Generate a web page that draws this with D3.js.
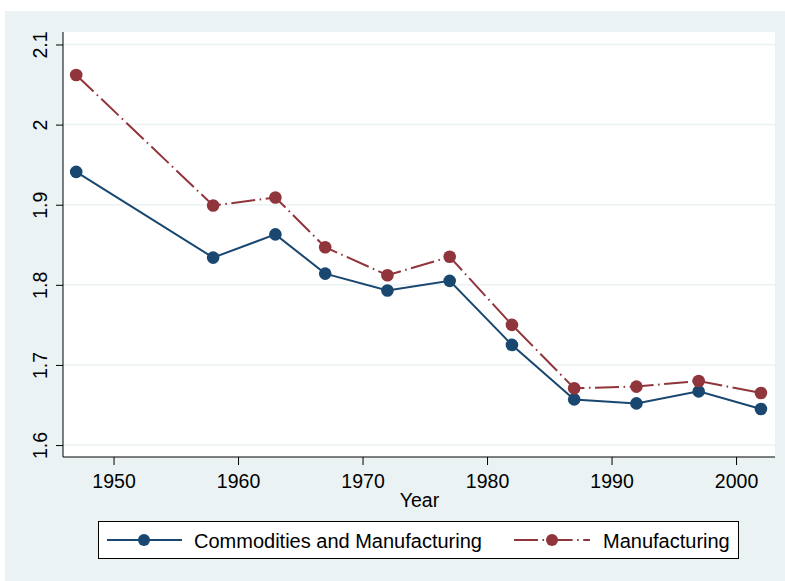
<!DOCTYPE html>
<html><head><meta charset="utf-8">
<script src="https://cdn.jsdelivr.net/npm/d3@7"></script>
<style>body{margin:0;background:#fff}svg{display:block}text{font-family:"Liberation Sans",Arial,sans-serif;fill:#000}</style>
</head><body>
<script>
const years = [1947,1958,1963,1967,1972,1977,1982,1987,1992,1997,2002];
const commodities = [1.941,1.834,1.863,1.814,1.793,1.805,1.725,1.657,1.652,1.667,1.645];
const manufacturing = [2.062,1.899,1.909,1.847,1.812,1.835,1.750,1.671,1.673,1.680,1.665];
const xTicks = [1950,1960,1970,1980,1990,2000];
const yTicks = [1.6,1.7,1.8,1.9,2.0,2.1];
const yTickLabels = ["1.6","1.7","1.8","1.9","2","2.1"];
const seriesNames = ["Commodities and Manufacturing","Manufacturing"];
const colors = ["#1a476f","#90353b"];

const W=785,H=581;
const svg=d3.select("body").append("svg").attr("width",W).attr("height",H);
svg.append("rect").attr("x",5).attr("y",11).attr("width",W-5).attr("height",H-11).attr("fill","#eaf2f3");
const L=63,R=775,T=32,B=457;
svg.append("rect").attr("x",L).attr("y",T).attr("width",R-L).attr("height",B-T).attr("fill","#fff");

const x=d3.scaleLinear().domain([1945.94,2003.13]).range([L,R]);
const y=d3.scaleLinear().domain([1.5851,2.1156]).range([B,T]);

// gridlines
svg.append("g").selectAll("line").data(yTicks).join("line")
 .attr("x1",L).attr("x2",R).attr("y1",d=>y(d)).attr("y2",d=>y(d))
 .attr("stroke","#eaf2f3").attr("stroke-width",1.5);

// y axis
const ya=svg.append("g").attr("transform",`translate(${L},0)`)
 .call(d3.axisLeft(y).tickValues(yTicks).tickSize(7).tickFormat((d,i)=>yTickLabels[i]));
ya.select(".domain").attr("d",`M0,${T}V${B}`).attr("stroke","#000");
ya.selectAll(".tick line").attr("stroke","#000");
ya.selectAll(".tick text").attr("x",0).attr("y",0).attr("dy",0)
 .attr("transform","translate(-16,0) rotate(-90)").attr("text-anchor","middle")
 .style("font-size","19.5px").style("font-family","Liberation Sans, Arial, sans-serif").attr("fill","#000");

// x axis
const xa=svg.append("g").attr("transform",`translate(0,${B})`)
 .call(d3.axisBottom(x).tickValues(xTicks).tickSize(8).tickFormat(d3.format("d")));
xa.select(".domain").attr("d",`M${L},0H${R}`).attr("stroke","#000");
xa.selectAll(".tick line").attr("stroke","#000");
xa.selectAll(".tick text").attr("y",31).attr("dy",0)
 .style("font-size","19.5px").style("font-family","Liberation Sans, Arial, sans-serif").attr("fill","#000");

svg.append("text").attr("x",419.5).attr("y",507).attr("text-anchor","middle")
 .style("font-size","19.5px").text("Year");

const line=d3.line().x((d,i)=>x(years[i])).y(d=>y(d));
const dashes=[null,"24,4.5,1.6,4.5"];
[commodities,manufacturing].forEach((s,k)=>{
  svg.append("path").datum(s).attr("d",line).attr("fill","none")
   .attr("stroke",colors[k]).attr("stroke-width",2).attr("stroke-dasharray",dashes[k]);
  svg.append("g").selectAll("circle").data(s).join("circle")
   .attr("cx",(d,i)=>x(years[i])).attr("cy",d=>y(d)).attr("r",6.3).attr("fill",colors[k]);
});

// legend
const lg=svg.append("g");
lg.append("rect").attr("x",98.5).attr("y",521.5).attr("width",640).attr("height",37)
 .attr("fill","#fff").attr("stroke","#000").attr("stroke-width",1);
const items=[{x0:107,x1:182,mx:144,tx:194},{x0:514,x1:590,mx:552,tx:603}];
items.forEach((it,k)=>{
  lg.append("line").attr("x1",it.x0).attr("x2",it.x1).attr("y1",540).attr("y2",540)
   .attr("stroke",colors[k]).attr("stroke-width",2).attr("stroke-dasharray",dashes[k]);
  lg.append("circle").attr("cx",it.mx).attr("cy",540).attr("r",6).attr("fill",colors[k]);
  lg.append("text").attr("x",it.tx).attr("y",547.5).style("font-size","20px").text(seriesNames[k]);
});
</script>
</body></html>
